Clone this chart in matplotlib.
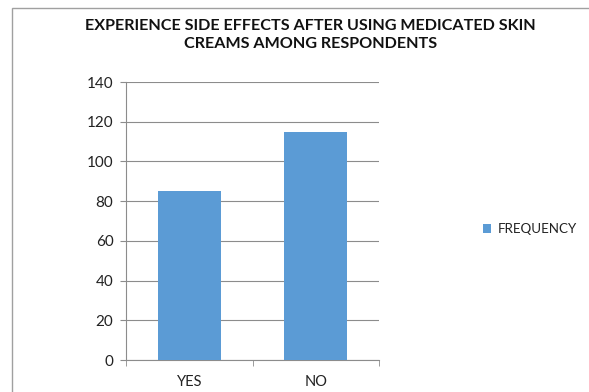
import matplotlib.pyplot as plt
from matplotlib.patches import Rectangle

# Survey answers and counts
categories = ['YES', 'NO']
frequency = [85, 115]
y_ticks = [0, 20, 40, 60, 80, 100, 120, 140]

BAR_COLOR = '#5B9BD5'
GRID_COLOR = '#8c8c8c'
FONT = 'Lato'

fig = plt.figure(figsize=(5.89, 3.92), dpi=100)
fig.patch.set_facecolor('white')

# chart frame (runs off the right and bottom edges)
fig.patches.append(Rectangle((12 / 589, -0.1), 1.0, 1.1 - 8 / 392, transform=fig.transFigure,
                             fill=False, edgecolor='#a0a0a0', linewidth=1.0))

ax = fig.add_axes([126 / 589, 1 - 360 / 392, (379 - 126) / 589, (360 - 82) / 392])
x = range(len(categories))
ax.bar(x, frequency, width=0.5, color=BAR_COLOR, label='FREQUENCY', zorder=3)

ax.set_xlim(-0.5, 1.5)
ax.set_ylim(0, 140)
ax.set_yticks(y_ticks)
ax.set_xticks(list(x))
ax.set_xticklabels(categories)
ax.set_xticks([-0.5, 0.5, 1.5], minor=True)

ax.yaxis.grid(True, color=GRID_COLOR, linewidth=0.8, zorder=0)
for side in ['top', 'right']:
    ax.spines[side].set_visible(False)
ax.spines['left'].set_color(GRID_COLOR)
ax.spines['bottom'].set_color(GRID_COLOR)
ax.tick_params(axis='y', length=4, color=GRID_COLOR, labelsize=11, pad=5)
ax.tick_params(axis='x', which='major', length=0, labelsize=10.5, pad=11)
ax.tick_params(axis='x', which='minor', length=4, color=GRID_COLOR)
for lbl in ax.get_xticklabels() + ax.get_yticklabels():
    lbl.set_fontfamily(FONT)
    lbl.set_color('#222222')

fig.text(0.527, 1 - 35 / 392, 'EXPERIENCE SIDE EFFECTS AFTER USING MEDICATED SKIN\nCREAMS AMONG RESPONDENTS',
         ha='center', va='center', fontsize=11.6, fontweight='bold', family=FONT,
         linespacing=1.3, color='#111111')

leg = ax.legend(loc='center left', bbox_to_anchor=(471 / 589, 1 - 229 / 392),
                bbox_transform=fig.transFigure, frameon=False,
                prop={'family': FONT, 'size': 9.6}, handlelength=0.6, handleheight=0.6,
                handletextpad=0.5)
for t in leg.get_texts():
    t.set_color('#222222')

fig.savefig('out.png', dpi=100, facecolor='white')
